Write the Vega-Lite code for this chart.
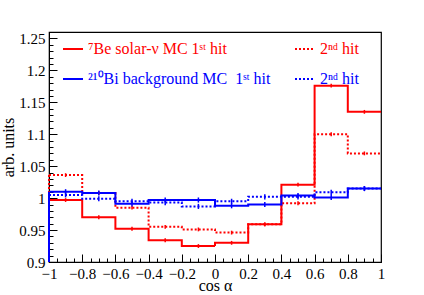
{
  "$schema": "https://vega.github.io/schema/vega-lite/v6.json",
  "width": 332,
  "height": 230,
  "autosize": "none",
  "padding": {"left": 49, "top": 32, "right": 43, "bottom": 33},
  "background": "white",
  "config": {
    "font": "Liberation Serif",
    "view": {"stroke": "black", "strokeWidth": 1.2},
    "axis": {"grid": false, "domainColor": "black", "tickColor": "black", "labelColor": "black", "titleColor": "black", "labelFont": "Liberation Serif", "titleFont": "Liberation Serif", "titleFontWeight": "normal", "labelFontSize": 15, "titleFontSize": 15}
  },
  "resolve": {"axis": {"x": "independent", "y": "independent"}},
  "datasets": {
    "steps": [
      {"s": "be1", "x": -1, "y": 0.997}, {"s": "be1", "x": -0.8, "y": 0.970}, {"s": "be1", "x": -0.6, "y": 0.952}, {"s": "be1", "x": -0.4, "y": 0.934}, {"s": "be1", "x": -0.2, "y": 0.925}, {"s": "be1", "x": 0, "y": 0.930}, {"s": "be1", "x": 0.2, "y": 0.959}, {"s": "be1", "x": 0.4, "y": 1.021}, {"s": "be1", "x": 0.6, "y": 1.176}, {"s": "be1", "x": 0.8, "y": 1.135}, {"s": "be1", "x": 1, "y": 1.135},
      {"s": "be2", "x": -1, "y": 1.036}, {"s": "be2", "x": -0.8, "y": 1.008}, {"s": "be2", "x": -0.6, "y": 0.985}, {"s": "be2", "x": -0.4, "y": 0.955}, {"s": "be2", "x": -0.2, "y": 0.951}, {"s": "be2", "x": 0, "y": 0.946}, {"s": "be2", "x": 0.2, "y": 0.959}, {"s": "be2", "x": 0.4, "y": 0.992}, {"s": "be2", "x": 0.6, "y": 1.100}, {"s": "be2", "x": 0.8, "y": 1.070}, {"s": "be2", "x": 1, "y": 1.070},
      {"s": "bi1", "x": -1, "y": 1.010}, {"s": "bi1", "x": -0.8, "y": 1.008}, {"s": "bi1", "x": -0.6, "y": 0.991}, {"s": "bi1", "x": -0.4, "y": 0.997}, {"s": "bi1", "x": -0.2, "y": 0.997}, {"s": "bi1", "x": 0, "y": 0.988}, {"s": "bi1", "x": 0.2, "y": 0.990}, {"s": "bi1", "x": 0.4, "y": 1.004}, {"s": "bi1", "x": 0.6, "y": 1.001}, {"s": "bi1", "x": 0.8, "y": 1.015}, {"s": "bi1", "x": 1, "y": 1.015},
      {"s": "bi2", "x": -1, "y": 1.005}, {"s": "bi2", "x": -0.8, "y": 0.999}, {"s": "bi2", "x": -0.6, "y": 0.995}, {"s": "bi2", "x": -0.4, "y": 0.993}, {"s": "bi2", "x": -0.2, "y": 0.987}, {"s": "bi2", "x": 0, "y": 0.995}, {"s": "bi2", "x": 0.2, "y": 1.002}, {"s": "bi2", "x": 0.4, "y": 1.002}, {"s": "bi2", "x": 0.6, "y": 1.009}, {"s": "bi2", "x": 0.8, "y": 1.015}, {"s": "bi2", "x": 1, "y": 1.015}
    ],
    "pts": [
      {"s": "be1", "x": -0.9, "y": 0.997, "e": 0.003}, {"s": "be1", "x": -0.7, "y": 0.970, "e": 0.003}, {"s": "be1", "x": -0.5, "y": 0.952, "e": 0.003}, {"s": "be1", "x": -0.3, "y": 0.934, "e": 0.003}, {"s": "be1", "x": -0.1, "y": 0.925, "e": 0.003}, {"s": "be1", "x": 0.1, "y": 0.930, "e": 0.003}, {"s": "be1", "x": 0.3, "y": 0.959, "e": 0.003}, {"s": "be1", "x": 0.5, "y": 1.021, "e": 0.003}, {"s": "be1", "x": 0.7, "y": 1.176, "e": 0.003}, {"s": "be1", "x": 0.9, "y": 1.135, "e": 0.003},
      {"s": "be2", "x": -0.9, "y": 1.036, "e": 0.003}, {"s": "be2", "x": -0.7, "y": 1.008, "e": 0.003}, {"s": "be2", "x": -0.5, "y": 0.985, "e": 0.003}, {"s": "be2", "x": -0.3, "y": 0.955, "e": 0.003}, {"s": "be2", "x": -0.1, "y": 0.951, "e": 0.003}, {"s": "be2", "x": 0.1, "y": 0.946, "e": 0.003}, {"s": "be2", "x": 0.3, "y": 0.959, "e": 0.003}, {"s": "be2", "x": 0.5, "y": 0.992, "e": 0.003}, {"s": "be2", "x": 0.7, "y": 1.100, "e": 0.003}, {"s": "be2", "x": 0.9, "y": 1.070, "e": 0.003},
      {"s": "bi1", "x": -0.9, "y": 1.010, "e": 0.004}, {"s": "bi1", "x": -0.7, "y": 1.008, "e": 0.004}, {"s": "bi1", "x": -0.5, "y": 0.991, "e": 0.004}, {"s": "bi1", "x": -0.3, "y": 0.997, "e": 0.004}, {"s": "bi1", "x": -0.1, "y": 0.997, "e": 0.004}, {"s": "bi1", "x": 0.1, "y": 0.988, "e": 0.004}, {"s": "bi1", "x": 0.3, "y": 0.990, "e": 0.004}, {"s": "bi1", "x": 0.5, "y": 1.004, "e": 0.004}, {"s": "bi1", "x": 0.7, "y": 1.001, "e": 0.004}, {"s": "bi1", "x": 0.9, "y": 1.015, "e": 0.004},
      {"s": "bi2", "x": -0.9, "y": 1.005, "e": 0.004}, {"s": "bi2", "x": -0.7, "y": 0.999, "e": 0.004}, {"s": "bi2", "x": -0.5, "y": 0.995, "e": 0.004}, {"s": "bi2", "x": -0.3, "y": 0.993, "e": 0.004}, {"s": "bi2", "x": -0.1, "y": 0.987, "e": 0.004}, {"s": "bi2", "x": 0.1, "y": 0.995, "e": 0.004}, {"s": "bi2", "x": 0.3, "y": 1.002, "e": 0.004}, {"s": "bi2", "x": 0.5, "y": 1.002, "e": 0.004}, {"s": "bi2", "x": 0.7, "y": 1.009, "e": 0.004}, {"s": "bi2", "x": 0.9, "y": 1.015, "e": 0.004}
    ]
  },
  "layer": [
    {
      "data": {"name": "steps"},
      "mark": {"type": "line", "interpolate": "step-after", "strokeWidth": 2, "clip": true},
      "encoding": {
        "x": {"field": "x", "type": "quantitative", "scale": {"domain": [-1, 1], "nice": false, "zero": false},
          "axis": {"orient": "bottom", "title": "cos α", "values": [-1, -0.8, -0.6, -0.4, -0.2, 0, 0.2, 0.4, 0.6, 0.8, 1], "format": "~g", "tickSize": -8, "labelPadding": 12, "labelFlush": false, "labelOverlap": false, "titleBaseline": "alphabetic", "titleY": 28, "titleX": 166, "labelFont": "Liberation Serif", "labelFontSize": 15, "titleFont": "Liberation Serif", "titleFontSize": 16}},
        "y": {"field": "y", "type": "quantitative", "scale": {"domain": [0.9, 1.26], "nice": false, "zero": false},
          "axis": {"orient": "left", "title": "arb. units", "values": [0.9, 0.95, 1, 1.05, 1.1, 1.15, 1.2, 1.25], "format": "~g", "tickSize": -8, "labelPadding": 12, "labelFlush": false, "labelOverlap": false, "titleBaseline": "alphabetic", "titleX": -36, "titleY": 115, "titleAngle": -90, "labelFont": "Liberation Serif", "labelFontSize": 15, "titleFont": "Liberation Serif", "titleFontSize": 16}},
        "color": {"field": "s", "type": "nominal",
          "scale": {"domain": ["be1", "be2", "bi1", "bi2"], "range": ["#ff0000", "#ff0000", "#0000ff", "#0000ff"]},
          "legend": {"orient": "none", "direction": "horizontal", "legendX": 13, "legendY": 6, "columns": 2, "title": null, "padding": 0, "symbolType": "stroke", "symbolSize": 400, "symbolStrokeWidth": 2, "labelFont": "Liberation Serif", "labelFontSize": 16, "labelOffset": 4, "rowPadding": 11, "columnPadding": 20, "labelLimit": 400,
            "labelExpr": "datum.value == 'be1' ? '⁷Be solar-ν MC 1ˢᵗ hit' : datum.value == 'bi1' ? '²¹⁰Bi background MC\u00a0 1ˢᵗ hit' : '2ⁿᵈ hit'",
            "encode": {"labels": {"update": {"fill": {"scale": "color", "field": "value"}}}}}},
        "strokeDash": {"field": "s", "type": "nominal",
          "scale": {"domain": ["be1", "be2", "bi1", "bi2"], "range": [[1, 0], [2, 2], [1, 0], [2, 2]]},
          "legend": {"orient": "none", "direction": "horizontal", "legendX": 13, "legendY": 6, "columns": 2, "title": null, "padding": 0, "symbolType": "stroke", "symbolSize": 400, "symbolStrokeWidth": 2, "labelFont": "Liberation Serif", "labelFontSize": 16, "labelOffset": 4, "rowPadding": 11, "columnPadding": 20, "labelLimit": 400,
            "labelExpr": "datum.value == 'be1' ? '⁷Be solar-ν MC 1ˢᵗ hit' : datum.value == 'bi1' ? '²¹⁰Bi background MC\u00a0 1ˢᵗ hit' : '2ⁿᵈ hit'",
            "encode": {"labels": {"update": {"fill": {"scale": "color", "field": "value"}}}}}}
      }
    },
    {
      "data": {"name": "steps"},
      "transform": [{"filter": "datum.x == -1"}],
      "mark": {"type": "rule", "strokeWidth": 2},
      "encoding": {
        "x": {"field": "x", "type": "quantitative", "axis": null},
        "y": {"field": "y", "type": "quantitative", "axis": null},
        "y2": {"datum": 0.9},
        "color": {"field": "s", "type": "nominal", "legend": null},
        "strokeDash": {"field": "s", "type": "nominal", "legend": null}
      }
    },
    {
      "data": {"name": "pts"},
      "mark": {"type": "errorbar", "thickness": 1.5},
      "encoding": {
        "x": {"field": "x", "type": "quantitative",
          "axis": {"orient": "bottom", "title": null, "labels": false, "domain": false, "values": [-0.95, -0.9, -0.85, -0.75, -0.7, -0.65, -0.55, -0.5, -0.45, -0.35, -0.3, -0.25, -0.15, -0.1, -0.05, 0.05, 0.1, 0.15, 0.25, 0.3, 0.35, 0.45, 0.5, 0.55, 0.65, 0.7, 0.75, 0.85, 0.9, 0.95], "tickSize": -4}},
        "y": {"field": "y", "type": "quantitative",
          "axis": {"orient": "left", "title": null, "labels": false, "domain": false, "values": [0.91, 0.92, 0.93, 0.94, 0.96, 0.97, 0.98, 0.99, 1.01, 1.02, 1.03, 1.04, 1.06, 1.07, 1.08, 1.09, 1.11, 1.12, 1.13, 1.14, 1.16, 1.17, 1.18, 1.19, 1.21, 1.22, 1.23, 1.24, 1.26], "tickSize": -4}},
        "yError": {"field": "e"},
        "color": {"field": "s", "type": "nominal", "legend": null}
      }
    }
  ]
}
